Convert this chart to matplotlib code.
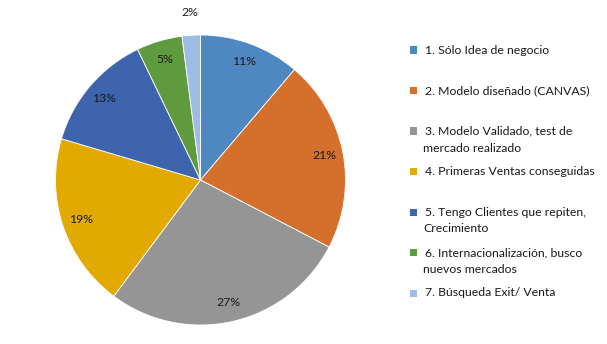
import matplotlib
matplotlib.use("Agg")
import matplotlib.pyplot as plt
from matplotlib.patches import Rectangle

categories = [
    "1. Sólo Idea de negocio",
    "2. Modelo diseñado (CANVAS)",
    "3. Modelo Validado, test de\nmercado realizado",
    "4. Primeras Ventas conseguidas",
    "5. Tengo Clientes que repiten,\nCrecimiento",
    "6. Internacionalización, busco\nnuevos mercados",
    "7. Búsqueda Exit/ Venta",
]
values = [11, 21, 27, 19, 13, 5, 2]
colors = ["#4F87C0", "#D46F2C", "#959595", "#E2AA00", "#3D64AD", "#5F9A3E", "#9DBDE4"]

plt.rcParams["font.family"] = ["Lato", "DejaVu Sans"]

W, H = 607, 344
fig = plt.figure(figsize=(W / 100, H / 100), dpi=100)
cx, cy, r = 200.5, 180, 145
ax = fig.add_axes([(cx - r) / W, (H - cy - r) / H, 2 * r / W, 2 * r / H])

total = sum(values)
wedges, texts, autotexts = ax.pie(
    values, colors=colors, startangle=90, counterclock=False,
    autopct=lambda p: f"{p * total / 100:.0f}%", pctdistance=0.87,
    wedgeprops=dict(edgecolor="white", linewidth=0.6),
    textprops=dict(fontsize=8.8, color="#1a1a1a"),
)
# small last slice label outside
px, py = autotexts[-1].get_position()
autotexts[-1].set_position((px / 0.87 * 1.16, py / 0.87 * 1.16))
ax.set_xlim(-1, 1)
ax.set_ylim(-1, 1)
ax.set_aspect("equal")

# legend
x_sq, x_txt = 413, 425
for i, (lab, col) in enumerate(zip(categories, colors)):
    y = 50 + i * 40.5
    fig.patches.append(Rectangle(((x_sq - 3.5) / W, (H - y - 3.5) / H), 7 / W, 7 / H,
                                 transform=fig.transFigure, facecolor=col, edgecolor="none"))
    lines = lab.split("\n")
    for j, ln in enumerate(lines):
        xx = x_txt if j == 0 else x_txt - 2
        fig.text(xx / W, (H - y - j * 17) / H, ln, fontsize=8.8, color="#1a1a1a",
                 va="center", ha="left")

fig.savefig("out.png", dpi=100)
